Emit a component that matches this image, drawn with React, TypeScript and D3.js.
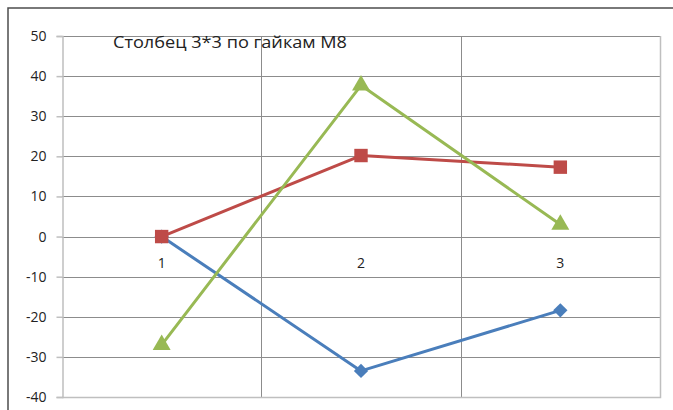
import React, { useEffect, useRef } from "react";
import * as d3 from "d3";

const categories = ["1", "2", "3"];
const seriesBlue = [0, -33.5, -18.4];
const seriesRed = [0, 20.2, 17.3];
const seriesGreen = [-27, 37.7, 3];
const yTicks = [50, 40, 30, 20, 10, 0, -10, -20, -30, -40];
const title = "Столбец 3*3 по гайкам М8";

const W = 673;
const H = 410;
const FONT = "'Open Sans', 'DejaVu Sans', sans-serif";

const App = () => {
  const ref = useRef<SVGSVGElement>(null);

  useEffect(() => {
    const svg = d3.select(ref.current);
    svg.selectAll("*").remove();

    const margin = { top: 36, right: 13, bottom: 13, left: 62 };

    const x = d3.scaleBand().domain(categories).range([margin.left, W - margin.right]);
    const y = d3.scaleLinear().domain([-40, 50]).range([H - margin.bottom, margin.top]);

    svg.append("rect").attr("width", W).attr("height", H).attr("fill", "#fff");

    // outer frame (cropped chart border)
    svg.append("path")
      .attr("d", `M8,${H} L8,8 L${W},8`)
      .attr("fill", "none")
      .attr("stroke", "#4d4d4d")
      .attr("stroke-width", 1.5);

    // horizontal gridlines
    svg.append("g")
      .selectAll("line")
      .data(yTicks)
      .join("line")
      .attr("x1", margin.left)
      .attr("x2", W - margin.right)
      .attr("y1", d => Math.round(y(d)) + 0.5)
      .attr("y2", d => Math.round(y(d)) + 0.5)
      .attr("stroke", "#8c8c8c")
      .attr("stroke-width", 1);

    // vertical gridlines at band edges
    const edges = categories.map(c => x(c) as number).concat([W - margin.right]).slice(1);
    svg.append("g")
      .selectAll("line")
      .data(edges)
      .join("line")
      .attr("x1", d => Math.round(d) + 0.5)
      .attr("x2", d => Math.round(d) + 0.5)
      .attr("y1", margin.top)
      .attr("y2", H - margin.bottom)
      .attr("stroke", "#8c8c8c");

    // plot area border right/bottom
    svg.append("path")
      .attr("d", `M${W - margin.right + 0.5},${margin.top} V${H - margin.bottom + 0.5} H${margin.left}`)
      .attr("fill", "none")
      .attr("stroke", "#bfbfbf")
      .attr("stroke-width", 1.5);

    // y axis
    const yAxis = svg.append("g")
      .attr("transform", `translate(${margin.left + 0.5},0)`)
      .call(d3.axisLeft(y).tickValues(yTicks).tickSize(6).tickPadding(10).tickFormat(d => String(d)));
    yAxis.select(".domain").attr("stroke", "#bfbfbf").attr("stroke-width", 1.5);
    yAxis.selectAll(".tick line").attr("stroke", "#bfbfbf").attr("stroke-width", 1.5);
    yAxis.selectAll(".tick text")
      .attr("font-family", FONT)
      .attr("font-size", 14)
      .attr("fill", "#222");

    // category labels under zero line
    svg.append("g")
      .selectAll("text")
      .data(categories)
      .join("text")
      .attr("x", d => (x(d) as number) + x.bandwidth() / 2)
      .attr("y", y(0) + 31)
      .attr("text-anchor", "middle")
      .attr("font-family", FONT)
      .attr("font-size", 14)
      .attr("fill", "#222")
      .text(d => d);

    // title
    svg.append("text")
      .attr("x", 113)
      .attr("y", 48)
      .attr("font-family", FONT)
      .attr("font-size", 16.5)
      .attr("textLength", 234)
      .attr("lengthAdjust", "spacingAndGlyphs")
      .attr("fill", "#222")
      .text(title);

    const cx = (i: number) => (x(categories[i]) as number) + x.bandwidth() / 2;
    const line = d3.line<number>().x((d, i) => cx(i)).y(d => y(d));

    const series = [
      { data: seriesBlue, color: "#4a7ebb", symbol: d3.symbolDiamond2, size: 130 },
      { data: seriesRed, color: "#be4b48", symbol: d3.symbolSquare, size: 180 },
      { data: seriesGreen, color: "#98b954", symbol: d3.symbolTriangle, size: 140 },
    ];

    series.forEach(s => {
      svg.append("path")
        .datum(s.data)
        .attr("d", line)
        .attr("fill", "none")
        .attr("stroke", s.color)
        .attr("stroke-width", 3)
        .attr("stroke-linejoin", "round");
      svg.append("g")
        .selectAll("path")
        .data(s.data)
        .join("path")
        .attr("transform", (d, i) => `translate(${cx(i)},${y(d)})`)
        .attr("d", d3.symbol().type(s.symbol).size(s.size)())
        .attr("fill", s.color);
    });
  }, []);

  return (
    <svg ref={ref} width={W} height={H}
      style={{ position: "absolute", left: 0, top: 0, display: "block" }} />
  );
};

export default App;
